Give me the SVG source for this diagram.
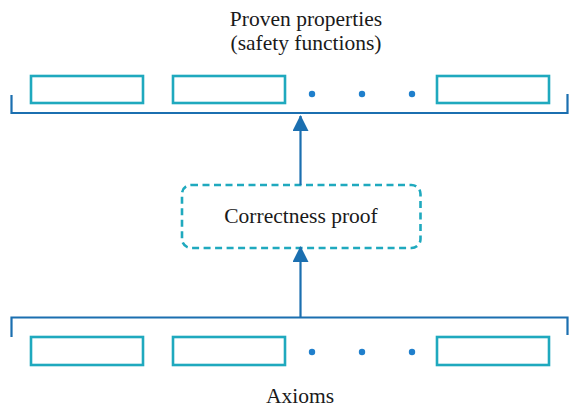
<svg xmlns="http://www.w3.org/2000/svg" width="569" height="410" viewBox="0 0 569 410">
  <style>
    .item { fill: #ffffff; stroke: #1fa9be; stroke-width: 2.6; }
    .bracket { fill: none; stroke: #1b6fb0; stroke-width: 2.2; }
    .dot { fill: #1f7fcc; }
    .conn { stroke: #1b6fb0; stroke-width: 2.2; fill: none; }
    .label { font-family: "Liberation Serif", "Times New Roman", serif; font-size: 21.5px; fill: #1a1a1a; text-anchor: middle; }
  </style>
  <defs>
    <marker id="head" markerUnits="userSpaceOnUse" viewBox="0 0 16 16" refX="15" refY="8" markerWidth="16" markerHeight="16" orient="auto">
      <path d="M0 0 L16 8 L0 16 Z" fill="#1b6fb0"/>
    </marker>
  </defs>
  <rect width="569" height="410" fill="#ffffff"/>

  <!-- proven properties (top row) -->
  <g id="properties">
    <text class="label" x="306" y="26">Proven properties</text>
    <text class="label" x="306" y="50">(safety functions)</text>
    <rect class="item" x="31" y="76" width="112" height="27"/>
    <rect class="item" x="173" y="76" width="112" height="27"/>
    <circle class="dot" cx="312" cy="94" r="3.2"/>
    <circle class="dot" cx="362" cy="94" r="3.2"/>
    <circle class="dot" cx="412" cy="94" r="3.2"/>
    <rect class="item" x="437" y="76" width="112" height="27"/>
    <path class="bracket" d="M11.5 95 V113 H567.5 V94"/>
  </g>

  <!-- correctness proof -->
  <g id="proof">
    <rect x="182" y="185" width="238.5" height="63" rx="9" fill="#ffffff" stroke="#1fa9be" stroke-width="2.6" stroke-dasharray="7 4.5"/>
    <text class="label" x="301" y="223">Correctness proof</text>
  </g>

  <!-- axioms (bottom row) -->
  <g id="axioms">
    <path class="bracket" d="M11.5 337 V317.5 H567.5 V335"/>
    <rect class="item" x="31" y="337" width="112" height="28"/>
    <rect class="item" x="173" y="337" width="112" height="28"/>
    <circle class="dot" cx="312" cy="352" r="3.2"/>
    <circle class="dot" cx="362" cy="352" r="3.2"/>
    <circle class="dot" cx="412" cy="352" r="3.2"/>
    <rect class="item" x="437" y="337" width="112" height="28"/>
    <text class="label" x="300" y="403">Axioms</text>
  </g>

  <!-- connectors -->
  <g id="connectors">
    <line class="conn" x1="300.5" y1="185" x2="300.5" y2="116" marker-end="url(#head)"/>
    <line class="conn" x1="300.5" y1="317" x2="300.5" y2="247" marker-end="url(#head)"/>
  </g>
</svg>
